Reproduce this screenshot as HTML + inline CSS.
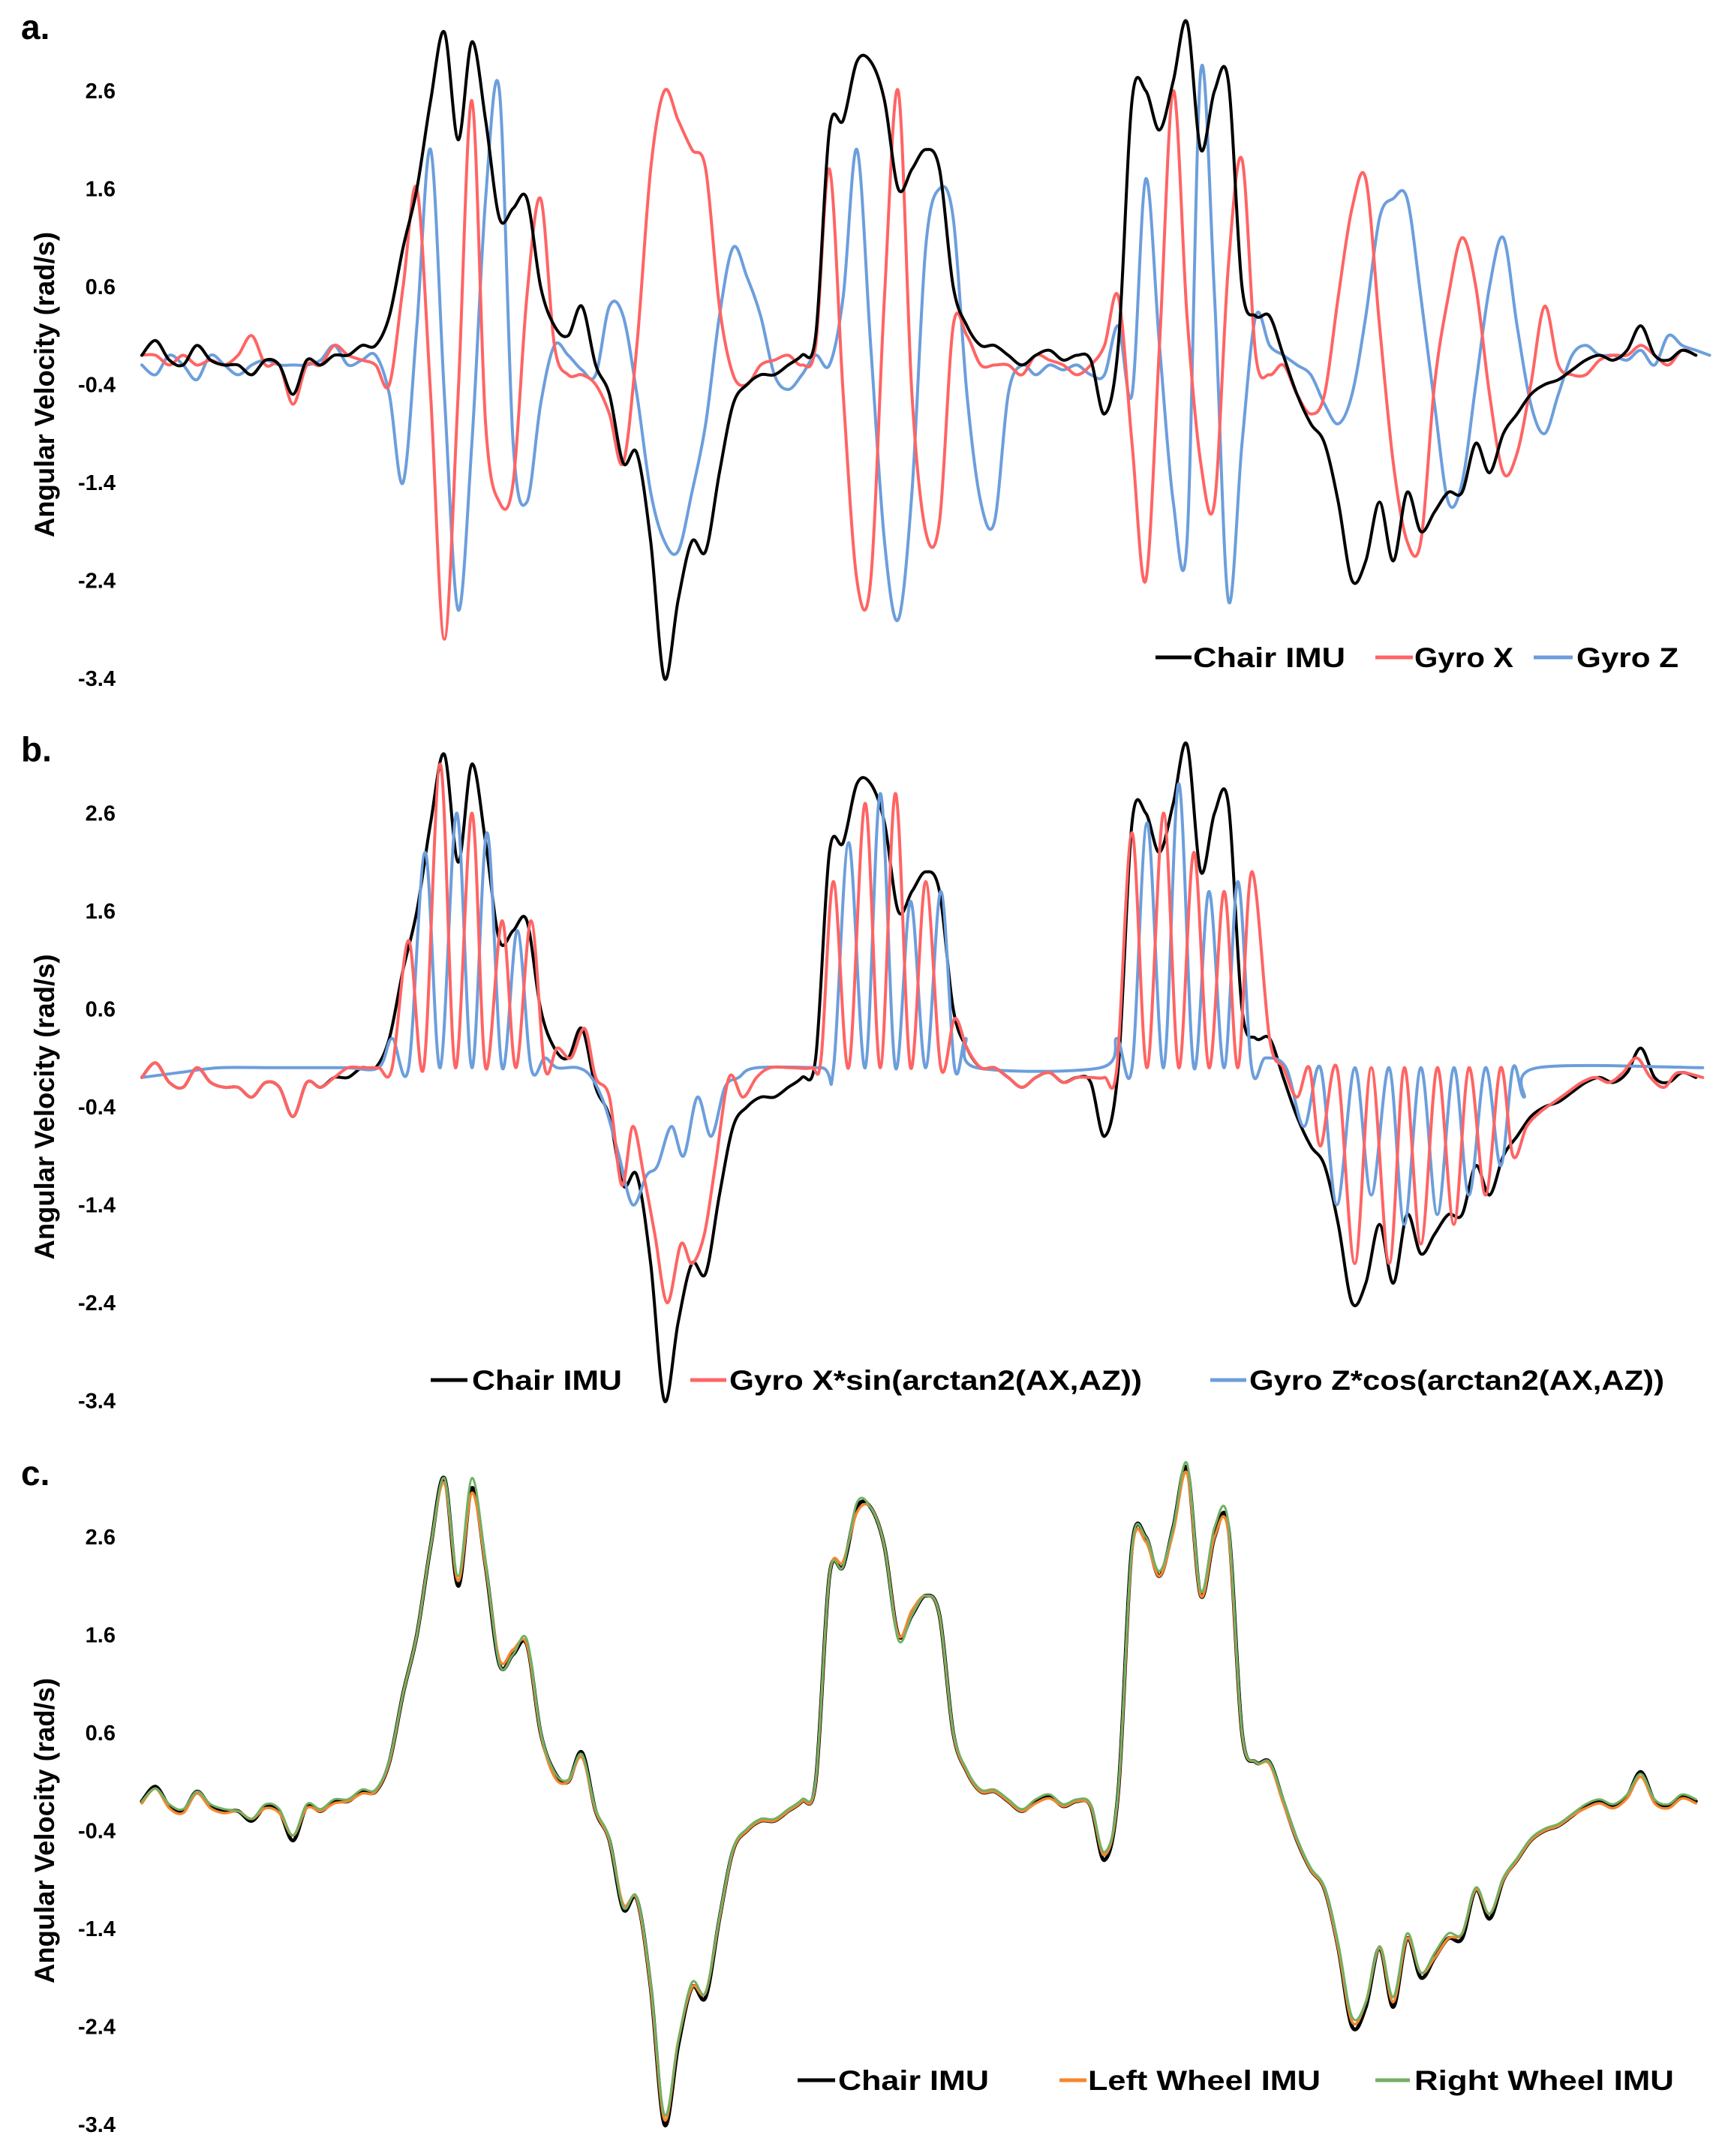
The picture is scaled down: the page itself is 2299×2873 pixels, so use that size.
<!DOCTYPE html>
<html><head><meta charset="utf-8"><style>
html,body{margin:0;padding:0;background:#fff;}
svg{display:block;}
text{font-family:"Liberation Sans",sans-serif;font-weight:bold;fill:#000;}
</style></head><body>
<svg id="chart" width="2299" height="2873" viewBox="0 0 2299 2873" xmlns="http://www.w3.org/2000/svg"></svg>
<script>
// ---- data (time in sample units, values in rad/s) ----
const yTicks = [2.6, 1.6, 0.6, -0.4, -1.4, -2.4, -3.4];
const yTickLabels = ["2.6","1.6","0.6","-0.4","-1.4","-2.4","-3.4"];
const chairIMU = [-0.1,0.05,-0.15,-0.2,0.0,-0.15,-0.2,-0.2,-0.3,-0.15,-0.2,-0.5,-0.15,-0.2,-0.1,-0.1,0.0,0.0,0.3,1.0,1.6,2.5,3.2,2.1,3.1,2.3,1.3,1.4,1.5,0.6,0.2,0.1,0.4,-0.2,-0.5,-1.2,-1.1,-2.0,-3.4,-2.6,-2.0,-2.1,-1.3,-0.6,-0.4,-0.3,-0.3,-0.2,-0.1,0.1,2.2,2.3,2.9,2.9,2.5,1.6,1.8,2.0,1.8,0.6,0.2,0.0,0.0,-0.1,-0.2,-0.1,-0.05,-0.15,-0.1,-0.15,-0.7,0.0,2.5,2.6,2.2,2.7,3.3,2.0,2.6,2.7,0.6,0.3,0.3,-0.1,-0.5,-0.8,-1.0,-1.6,-2.4,-2.2,-1.6,-2.2,-1.5,-1.9,-1.7,-1.5,-1.5,-1.0,-1.3,-0.9,-0.7,-0.5,-0.4,-0.35,-0.25,-0.15,-0.1,-0.15,-0.05,0.2,-0.1,-0.15,-0.05,-0.1];
const gyroX = [-0.1,-0.1,-0.2,-0.1,-0.2,-0.15,-0.2,-0.1,0.1,-0.2,-0.2,-0.6,-0.2,-0.2,0.0,-0.1,-0.15,-0.2,-0.4,0.6,1.6,-0.5,-3.0,-0.5,2.5,-0.8,-1.6,-1.4,0.5,1.5,0.0,-0.3,-0.3,-0.4,-0.7,-1.2,0.0,1.8,2.6,2.3,2.0,1.8,0.4,-0.3,-0.4,-0.2,-0.15,-0.1,-0.2,0.0,1.8,-0.5,-2.4,-2.4,0.5,2.6,-0.5,-1.9,-1.8,0.2,0.1,-0.2,-0.2,-0.2,-0.3,-0.1,-0.15,-0.2,-0.3,-0.2,0.0,0.5,-1.0,-2.4,0.0,2.6,0.3,-1.2,-1.6,0.8,1.9,-0.1,-0.3,-0.2,-0.5,-0.7,-0.5,0.5,1.4,1.7,0.2,-1.2,-2.0,-2.0,-0.4,0.5,1.1,0.6,-0.5,-1.3,-1.1,-0.4,0.4,-0.2,-0.3,-0.3,-0.15,-0.1,-0.1,0.0,-0.1,-0.2,-0.05,-0.1];
const gyroZ = [-0.2,-0.3,-0.1,-0.2,-0.35,-0.1,-0.2,-0.3,-0.2,-0.15,-0.2,-0.2,-0.2,-0.15,0.0,-0.2,-0.15,-0.1,-0.5,-1.4,0.2,2.0,-0.5,-2.7,-1.0,1.5,2.6,-1.0,-1.6,-0.6,0.0,-0.1,-0.25,-0.3,0.4,0.3,-0.5,-1.5,-2.0,-2.1,-1.5,-0.8,0.3,1.0,0.7,0.3,-0.3,-0.45,-0.3,-0.1,-0.2,0.5,2.0,0.0,-2.0,-2.8,-1.5,1.0,1.6,1.3,-0.5,-1.6,-1.8,-0.5,-0.2,-0.3,-0.2,-0.25,-0.2,-0.3,-0.3,0.2,-0.5,1.7,0.0,-1.6,-2.0,2.8,0.5,-2.6,-1.0,0.3,0.0,-0.1,-0.2,-0.3,-0.6,-0.8,-0.5,0.3,1.3,1.5,1.5,0.5,-0.6,-1.6,-1.4,-0.4,0.6,1.1,0.2,-0.6,-0.9,-0.5,-0.1,0.0,-0.1,-0.1,-0.15,-0.05,-0.2,0.1,0.0,-0.05,-0.1];
const bRedT = [103,113,123,133,143,153,163,173,183,193,203,213,223,233,243,253,263,275,285,297,308,320,331,343,353,365,375,386,396,405,415,425,433,443,452,460,468,476,485,495,503,512,520,530,540,550,560,575,590,597,606,617,629,640,651,662,673,684,694,703,713,723,733,743,753,763,773,783,793,803,812,823,834,846,857,868,879,890,900,910,923,933,943,952,960,972,985,997,1010,1021,1033,1045,1057,1068,1080,1091,1100,1110,1120,1130,1140,1150,1160,1170,1180,1190,1200,1210,1220,1238];
const bRedV = [-0.1,0.05,-0.15,-0.2,0.0,-0.15,-0.2,-0.2,-0.3,-0.15,-0.2,-0.5,-0.15,-0.2,-0.1,0.0,0.0,0.0,0.0,1.3,0.0,3.1,0.0,2.6,0.0,1.5,0.0,1.5,0.0,0.2,0.1,0.4,-0.1,-0.3,-1.2,-0.6,-1.1,-1.7,-2.4,-1.8,-2.0,-1.7,-1.0,-0.1,-0.3,-0.1,0.0,0.0,0.0,0.1,1.9,0.0,2.7,0.0,2.8,0.0,1.9,0.0,0.5,0.2,0.0,0.0,-0.1,-0.2,-0.1,-0.05,-0.15,-0.1,-0.1,-0.1,0.0,2.4,0.0,2.6,0.0,2.2,0.0,1.8,0.0,2.0,0.3,0.0,-0.3,0.0,-0.8,0.0,-2.0,0.0,-2.0,0.0,-1.8,0.0,-1.6,0.0,-1.3,0.0,-0.9,-0.6,-0.45,-0.35,-0.25,-0.15,-0.1,-0.15,-0.05,0.1,-0.1,-0.2,-0.05,-0.1];
const bBlueT = [103,130,160,200,250,275,285,297,309,320,332,343,354,365,376,386,396,405,420,430,440,450,460,470,478,488,497,507,517,527,537,550,597,606,617,629,640,651,662,673,684,694,702,710,800,812,823,834,846,857,868,879,890,900,910,920,935,948,960,972,985,997,1010,1021,1033,1045,1057,1068,1080,1091,1100,1108,1118,1238];
const bBlueV = [-0.1,-0.05,0.0,0.0,0.0,0.0,0.3,0.0,2.2,0.0,2.6,0.0,2.4,0.0,1.4,0.0,0.1,0.0,0.0,-0.1,-0.4,-0.9,-1.4,-1.1,-1.0,-0.6,-0.9,-0.3,-0.7,-0.2,-0.1,0.0,0.0,0.0,2.3,0.0,2.8,0.0,1.7,0.0,1.8,0.0,0.3,0.0,0.0,0.3,0.0,2.5,0.0,2.9,0.0,1.8,0.0,1.9,0.0,0.1,0.0,-0.6,0.0,-1.4,0.0,-1.3,0.0,-1.6,0.0,-1.5,0.0,-1.3,0.0,-1.0,0.0,-0.3,0.0,0.0];
const leftWheel = [-0.12,0.03,-0.17,-0.22,-0.02,-0.17,-0.22,-0.2,-0.28,-0.17,-0.22,-0.45,-0.17,-0.2,-0.12,-0.1,-0.02,0.0,0.3,1.0,1.6,2.5,3.15,2.15,3.05,2.3,1.35,1.45,1.5,0.6,0.15,0.1,0.35,-0.2,-0.5,-1.15,-1.1,-2.0,-3.35,-2.55,-2.0,-2.05,-1.3,-0.6,-0.4,-0.3,-0.3,-0.2,-0.1,0.1,2.2,2.35,2.85,2.9,2.5,1.6,1.85,2.0,1.8,0.6,0.2,0.0,0.0,-0.1,-0.2,-0.12,-0.07,-0.15,-0.1,-0.15,-0.65,0.0,2.45,2.55,2.2,2.65,3.25,2.0,2.6,2.65,0.6,0.3,0.28,-0.12,-0.5,-0.8,-1.0,-1.6,-2.35,-2.15,-1.6,-2.15,-1.5,-1.85,-1.7,-1.5,-1.45,-1.0,-1.25,-0.9,-0.7,-0.5,-0.4,-0.35,-0.25,-0.17,-0.12,-0.17,-0.07,0.15,-0.12,-0.17,-0.07,-0.12];
const rightWheel = [-0.1,0.03,-0.13,-0.18,0.0,-0.13,-0.18,-0.2,-0.28,-0.13,-0.18,-0.45,-0.13,-0.18,-0.08,-0.08,0.02,0.02,0.32,1.0,1.6,2.5,3.2,2.2,3.2,2.35,1.3,1.4,1.55,0.62,0.2,0.12,0.38,-0.18,-0.48,-1.18,-1.08,-1.95,-3.3,-2.55,-1.95,-2.05,-1.28,-0.58,-0.38,-0.28,-0.28,-0.18,-0.08,0.12,2.2,2.3,2.95,2.9,2.5,1.55,1.8,2.0,1.8,0.62,0.22,0.02,0.02,-0.08,-0.18,-0.08,-0.03,-0.13,-0.08,-0.13,-0.62,0.02,2.5,2.6,2.25,2.7,3.35,2.05,2.7,2.75,0.62,0.3,0.3,-0.08,-0.48,-0.78,-0.98,-1.55,-2.3,-2.15,-1.58,-2.1,-1.45,-1.85,-1.65,-1.45,-1.45,-0.98,-1.25,-0.88,-0.68,-0.48,-0.38,-0.33,-0.23,-0.13,-0.08,-0.13,-0.03,0.18,-0.08,-0.13,-0.03,-0.08];

// ---- layout ----
const svg = document.getElementById('chart');
const NS = 'http://www.w3.org/2000/svg';
const panelTop = [121, 1083.5, 2048];
const unitPx = 130.5;
function xScale(t){ return 189 + (t - 103) * (2273 - 189) / (1240 - 103); }
function yScale(p, v){ return panelTop[p] + (2.6 - v) * unitPx; }
function chairTime(i){ return 103 + 10 * i; }

function mk(tag, attrs, parent){
  const el = document.createElementNS(NS, tag);
  for (const k in attrs) el.setAttribute(k, attrs[k]);
  (parent || svg).appendChild(el);
  return el;
}
function smoothPath(pts){
  let d = 'M' + pts[0][0].toFixed(1) + ',' + pts[0][1].toFixed(1);
  for (let i = 0; i < pts.length - 1; i++){
    const p0 = pts[Math.max(0, i-1)], p1 = pts[i], p2 = pts[i+1], p3 = pts[Math.min(pts.length-1, i+2)];
    const c1x = p1[0] + (p2[0]-p0[0])/6, c1y = p1[1] + (p2[1]-p0[1])/6;
    const c2x = p2[0] - (p3[0]-p1[0])/6, c2y = p2[1] - (p3[1]-p1[1])/6;
    d += ' C' + c1x.toFixed(1)+','+c1y.toFixed(1)+' '+c2x.toFixed(1)+','+c2y.toFixed(1)+' '+p2[0].toFixed(1)+','+p2[1].toFixed(1);
  }
  return d;
}
function drawSeries(p, times, vals, color, width, name){
  const pts = vals.map((v,i) => [xScale(times ? times[i] : chairTime(i)), yScale(p, v)]);
  const el = mk('path', {d: smoothPath(pts), fill:'none', stroke:color, 'stroke-width':width, 'stroke-linejoin':'round', 'stroke-linecap':'round'});
  
  
}

const panelLetters = ['a.', 'b.', 'c.'];
for (let p = 0; p < 3; p++){
  const g = mk('g', {});
  
  
  const lab = mk('text', {x:28, y:panelTop[p] - 69, 'font-size':46}, g);
  lab.textContent = panelLetters[p];
  
  
  yTicks.forEach((v, i) => {
    const t = mk('text', {x:154, y:yScale(p, v) + 10, 'font-size':29, 'text-anchor':'end'}, g);
    t.textContent = yTickLabels[i];
    
    
  });
  const cy = yScale(p, -0.4);
  const title = mk('text', {x:0, y:0, 'font-size':37, 'text-anchor':'middle', textLength:407, lengthAdjust:'spacingAndGlyphs', transform:'translate(72,' + cy + ') rotate(-90)'}, g);
  title.textContent = 'Angular Velocity (rad/s)';
  
  
}

// panel a
drawSeries(0, null, gyroZ, '#6c9edc', 4, 'gyro-z-line');
drawSeries(0, null, gyroX, '#ff6464', 4, 'gyro-x-line');
drawSeries(0, null, chairIMU, '#000', 4, 'chair-imu-line-a');
// panel b
drawSeries(1, null, chairIMU, '#000', 4, 'chair-imu-line-b');
drawSeries(1, bBlueT, bBlueV, '#6c9edc', 4, 'gyro-z-cos-line');
drawSeries(1, bRedT, bRedV, '#ff6464', 4, 'gyro-x-sin-line');
// panel c
drawSeries(2, null, chairIMU, '#000', 5, 'chair-imu-line-c');
drawSeries(2, null, leftWheel, '#f5862e', 3.5, 'left-wheel-imu-line');
drawSeries(2, null, rightWheel, '#72b064', 3, 'right-wheel-imu-line');

// legends
const legends = [
  [876, [[1540,1588,'#000',1590,1793,'Chair IMU'],[1833,1883,'#ff6464',1885,2017,'Gyro X'],[2044,2096,'#6c9edc',2101,2237,'Gyro Z']]],
  [1839, [[574,623,'#000',629,829,'Chair IMU'],[920,968,'#ff6464',972,1522,'Gyro X*sin(arctan2(AX,AZ))'],[1613,1661,'#6c9edc',1665,2218,'Gyro Z*cos(arctan2(AX,AZ))']]],
  [2772, [[1063,1113,'#000',1117,1318,'Chair IMU'],[1412,1448,'#f5862e',1450,1760,'Left Wheel IMU'],[1833,1879,'#72b064',1885,2231,'Right Wheel IMU']]]
];
legends.forEach((L, p) => {
  const g = mk('g', {});
  
  
  L[1].forEach(e => {
    const ln = mk('line', {x1:e[0], x2:e[1], y1:L[0], y2:L[0], stroke:e[2], 'stroke-width':5}, g);
    
    
    const t = mk('text', {x:e[3], y:L[0] + 13, 'font-size':37, textLength:e[4]-e[3], lengthAdjust:'spacingAndGlyphs'}, g);
    t.textContent = e[5];
    
    
  });
});
</script>
</body></html>
